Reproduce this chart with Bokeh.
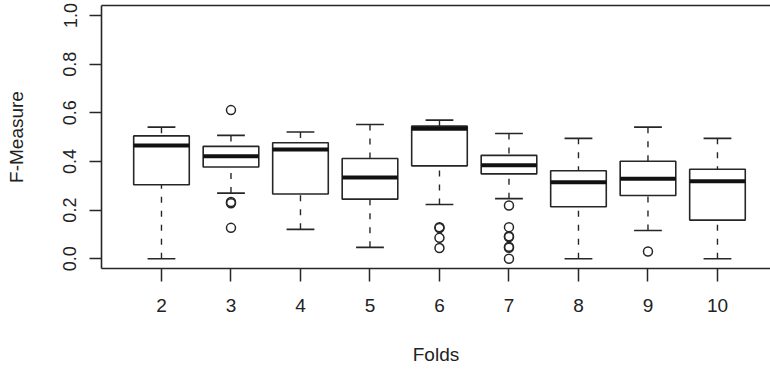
from bokeh.plotting import figure
from bokeh.models import ColumnDataSource, LinearAxis, FixedTicker
from bokeh.transform import dodge
from bokeh.embed import file_html
from bokeh.resources import INLINE

# ---- data ----
folds = [2, 3, 4, 5, 6, 7, 8, 9, 10]
lower = [0.000, 0.270, 0.121, 0.047, 0.223, 0.247, 0.000, 0.116, 0.000]
q1 = [0.304, 0.377, 0.266, 0.245, 0.382, 0.349, 0.214, 0.260, 0.159]
median = [0.466, 0.421, 0.449, 0.334, 0.534, 0.384, 0.314, 0.329, 0.319]
q3 = [0.505, 0.462, 0.477, 0.412, 0.545, 0.425, 0.362, 0.401, 0.368]
upper = [0.541, 0.507, 0.521, 0.552, 0.570, 0.515, 0.495, 0.541, 0.495]

outlier_fold = [3, 3, 3, 3, 6, 6, 6, 6, 7, 7, 7, 7, 7, 7, 7, 9]
outlier_val = [0.611, 0.233, 0.228, 0.127,
               0.130, 0.126, 0.086, 0.044,
               0.219, 0.130, 0.093, 0.089, 0.049, 0.045, 0.000,
               0.030]

y_ticks = [0.0, 0.2, 0.4, 0.6, 0.8, 1.0]
y_tick_labels = ["0.0", "0.2", "0.4", "0.6", "0.8", "1.0"]
x_title = "Folds"
y_title = "F-Measure"

LINE = "#262626"
TEXT = "#222222"
FONT = "Liberation Sans"

src = ColumnDataSource(dict(x=folds, lower=lower, q1=q1, med=median, q3=q3, upper=upper))
out_src = ColumnDataSource(dict(x=outlier_fold, y=outlier_val))

p = figure(width=770, height=370, x_range=(1.137, 10.763), y_range=(-0.040, 1.041),
           output_backend="svg", toolbar_location=None,
           min_border_left=101, min_border_right=0, min_border_top=5, min_border_bottom=102,
           x_axis_location=None, y_axis_location=None)
p.outline_line_color = None
p.xgrid.visible = False
p.ygrid.visible = False
p.background_fill_color = "white"
p.border_fill_color = "white"

# whiskers (dashed, from whisker end to hinge)
p.segment(x0="x", y0="upper", x1="x", y1="q3", source=src, line_color=LINE,
          line_width=1.4, line_dash="6 8")
p.segment(x0="x", y0="lower", x1="x", y1="q1", source=src, line_color=LINE,
          line_width=1.4, line_dash="6 8")
# staples
p.segment(x0=dodge("x", -0.2), y0="upper", x1=dodge("x", 0.2), y1="upper", source=src,
          line_color=LINE, line_width=1.6)
p.segment(x0=dodge("x", -0.2), y0="lower", x1=dodge("x", 0.2), y1="lower", source=src,
          line_color=LINE, line_width=1.6)
# boxes
p.vbar(x="x", width=0.8, bottom="q1", top="q3", source=src, fill_color="white",
       line_color=LINE, line_width=1.6)
# medians
p.segment(x0=dodge("x", -0.4), y0="med", x1=dodge("x", 0.4), y1="med", source=src,
          line_color="#111111", line_width=4, line_cap="butt")
# outliers
p.scatter(x="x", y="y", source=out_src, marker="circle", size=9, fill_color=None,
          line_color=LINE, line_width=1.5)

def style_axis(ax):
    ax.axis_line_color = LINE
    ax.axis_line_width = 1.6
    ax.major_tick_line_color = LINE
    ax.major_tick_line_width = 1.5
    ax.major_tick_in = 0
    ax.minor_tick_line_color = None
    ax.major_label_text_font = FONT
    ax.major_label_text_color = TEXT
    ax.axis_label_text_font = FONT
    ax.axis_label_text_color = TEXT
    ax.axis_label_text_font_style = "normal"

xaxis = LinearAxis(ticker=FixedTicker(ticks=folds), axis_label=x_title)
style_axis(xaxis)
xaxis.major_tick_out = 13
xaxis.major_label_text_font_size = "19px"
xaxis.major_label_standoff = 17
xaxis.axis_label_text_font_size = "19px"
xaxis.axis_label_standoff = 29
p.add_layout(xaxis, "below")

yaxis = LinearAxis(ticker=FixedTicker(ticks=y_ticks), axis_label=y_title)
style_axis(yaxis)
yaxis.major_label_overrides = {t: l for t, l in zip(y_ticks, y_tick_labels)}
yaxis.major_tick_out = 12
yaxis.major_label_orientation = "vertical"
yaxis.major_label_text_font_size = "18px"
yaxis.major_label_standoff = 13
yaxis.axis_label_text_font_size = "19px"
yaxis.axis_label_standoff = 34
p.add_layout(yaxis, "left")

top = LinearAxis(ticker=FixedTicker(ticks=[]))
top.axis_line_color = LINE
top.axis_line_width = 1.6
top.major_tick_line_color = None
top.minor_tick_line_color = None
top.major_label_text_font_size = "0px"
p.add_layout(top, "above")

open("out.html", "w").write(file_html(p, INLINE))
